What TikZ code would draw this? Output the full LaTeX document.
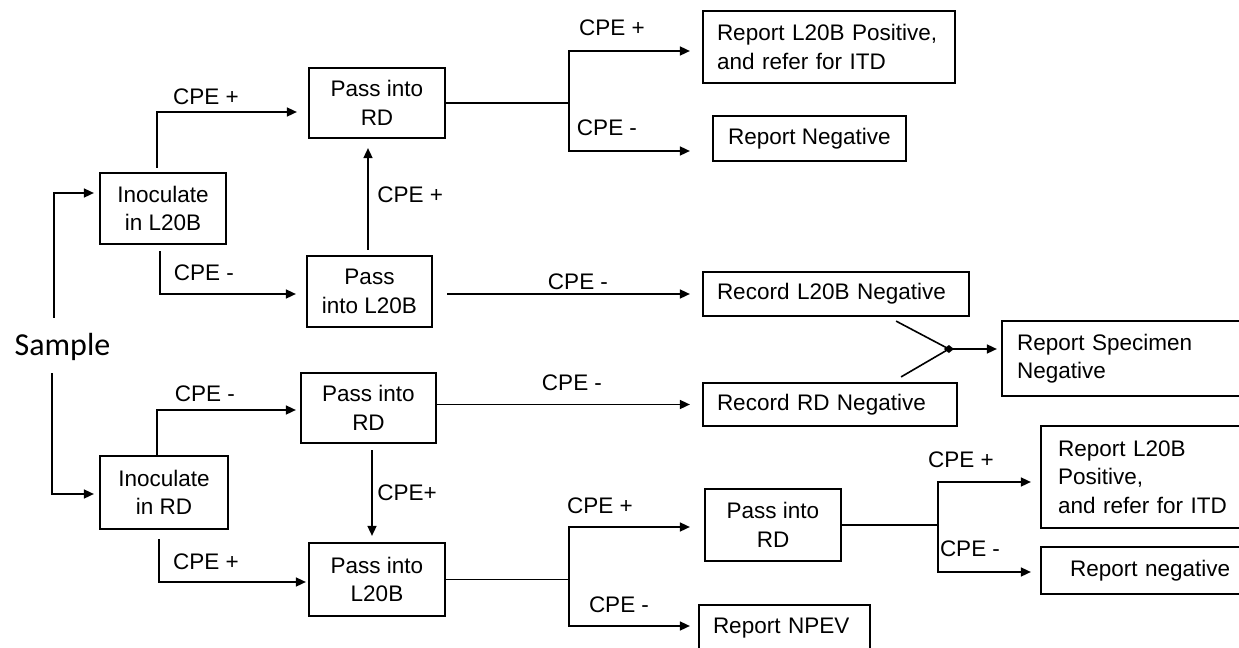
\documentclass[tikz,border=0pt]{standalone}
\usepackage{fontspec}
\setmainfont{Liberation Sans}
\newfontfamily\samplefont{Carlito}
\usetikzlibrary{arrows.meta}
\newcommand\boxfont{\fontsize{11.25}{14.3}\selectfont}
\begin{document}
\begin{tikzpicture}[x=0.5pt,y=-0.5pt,
  box/.style={draw, line width=1.1pt, inner sep=0pt, align=center, font=\boxfont},
  lbox/.style={box, align=left, inner xsep=7pt},
  obox/.style={lbox, draw=none},
  edge/.style={line width=1.1pt},
  lbl/.style={font=\boxfont, inner sep=0pt},
  conn/.style={line width=0.8pt},
  arr/.style={conn, -{Triangle[length=5pt,width=4.5pt]}}]
\useasboundingbox (0,0) rectangle (1239,648);
\begin{scope}
\clip (0,0) rectangle (1239,648);

% ---------- boxes ----------
\node[box, minimum width=63pt, minimum height=35.5pt] (inocA) at (163,208.5) {Inoculate\\in L20B};
\node[box, minimum width=68pt, minimum height=35pt] (rdA) at (377,103) {Pass into\\RD};
\node[box, minimum width=62.5pt, minimum height=35.5pt] (l20A) at (369.5,291.5) {Pass\\into L20B};
\node[lbox, text width=112pt, minimum height=36pt] (posA) at (829,47) {Report L20B Positive,\\and refer for ITD};
\node[box, minimum width=96.5pt, minimum height=22.5pt] (negA) at (809.5,138.5) {Report Negative};
\node[lbox, text width=119pt, minimum height=22pt] (recL) at (836,294) {Record L20B Negative};
\node[obox, text width=134.5pt, minimum height=36.5pt] (spec) at (1151.5,358.5) {Report Specimen\\Negative};
\node[lbox, text width=113pt, minimum height=21.5pt] (recR) at (830,404.5) {Record RD Negative};
\node[box, minimum width=64pt, minimum height=36.5pt] (inocB) at (164,492.5) {Inoculate\\in RD};
\node[box, minimum width=67.5pt, minimum height=35pt] (rdB) at (368.5,408) {Pass into\\RD};
\node[box, minimum width=68pt, minimum height=36.5pt] (l20B) at (377,579.5) {Pass into\\L20B};
\node[box, minimum width=68pt, minimum height=36pt] (rdC) at (773,525) {Pass into\\RD};
\node[obox, inner xsep=8pt, text width=113pt, minimum height=50pt] (posB) at (1171,477) {Report L20B\\Positive,\\and refer for ITD};
\node[obox, inner xsep=14pt, text width=101pt, minimum height=22.5pt] (negB) at (1171,570.5) {Report negative};
\node[lbox, text width=71.5pt, minimum height=23pt] (npev) at (784.5,628) {Report NPEV};

% boxes cut off by the right edge of the picture
\foreach \b in {spec,posB,negB}
  \draw[edge] (\b.north east) -- (\b.north west) -- (\b.south west) -- (\b.south east);

\node[inner sep=0pt, font=\samplefont\fontsize{16}{19}\selectfont] (smp) at (62.5,347) {Sample};

% ---------- connectors ----------
\draw[arr] ([shift={(-8.5,-15)}]smp.north) |- ([shift={(-5,-15.5)}]inocA.west);
\draw[arr] ([shift={(-10.5,12)}]smp.south) |- ([shift={(-5,1.5)}]inocB.west);

\draw[arr] ([shift={(-6,-4)}]inocA.north) |- ([shift={(-11,9)}]rdA.west);
\draw[arr] ([shift={(-3,6)}]inocA.south) |- ([shift={(-10,2.5)}]l20A.west);
\coordinate (u1) at ([shift={(-1.5,-5)}]l20A.north);
\draw[arr, shorten >=4.5pt] (u1) -- (u1 |- rdA.south);

\draw[conn] (rdA.east) -- ++(123,0) coordinate (jA);
\draw[arr] (jA) |- ([shift={(-12,4)}]posA.west);
\draw[arr] (jA) |- ([shift={(-22,12.5)}]negA.west);

\draw[arr] (l20A.east |- recL.west) ++(14,0) -- ([xshift=-6pt]recL.west);

\coordinate (jn) at ([shift={(-53,-9.5)}]spec.west);
\draw[conn] ([shift={(-74,4)}]recL.south east) -- (jn);
\draw[conn] ([shift={(-57,-5)}]recR.north east) -- (jn);
\fill (jn) +(-5,0) -- +(0,-4) -- +(5,0) -- +(0,4) -- cycle;
\draw[arr] (jn) -- ([shift={(-5,-9.5)}]spec.west);

\draw[arr] ([xshift=-3.5pt]inocB.north) |- ([shift={(-4,2)}]rdB.west);
\draw[arr] ([shift={(-5,9)}]inocB.south) |- ([shift={(-2,2.5)}]l20B.west);
\coordinate (u3) at ([shift={(3.5,6)}]rdB.south);
\draw[arr, shorten >=3pt] (u3) -- (u3 |- l20B.north);

\draw[arr] (rdB.east |- recR.west) -- ([xshift=-6pt]recR.west);

\draw[conn] (l20B.east) -- ++(123,0) coordinate (jB);
\draw[arr] (jB) |- ([shift={(-14,2)}]rdC.west);
\draw[arr] (jB) |- ([shift={(-8,-2)}]npev.west);

\draw[conn] (rdC.east) -- ++(96,0) coordinate (jC);
\draw[arr] (jC) |- ([shift={(-10,5)}]posB.west);
\draw[arr] (jC) |- ([shift={(-10,1.5)}]negB.west);

% ---------- labels ----------
\node[lbl] (l1) at (206,97) {CPE +};
\node[lbl] (l2) at (204,273) {CPE -};
\node[lbl, anchor=west] (l3) at (377,195) {CPE +};
\node[lbl] (l4) at (612,28) {CPE +};
\node[lbl] (l5) at (607,128) {CPE -};
\node[lbl] (l6) at (578,282) {CPE -};
\node[lbl] (l7) at (205,394) {CPE -};
\node[lbl] (l8) at (206,562) {CPE +};
\node[lbl, anchor=west] (l9) at (377,493) {CPE+};
\node[lbl] (l10) at (572,383) {CPE -};
\node[lbl] (l11) at (600,506) {CPE +};
\node[lbl] (l12) at (619,605) {CPE -};
\node[lbl] (l13) at (961,460) {CPE +};
\node[lbl] (l14) at (970,549) {CPE -};
\end{scope}
\end{tikzpicture}
\end{document}
